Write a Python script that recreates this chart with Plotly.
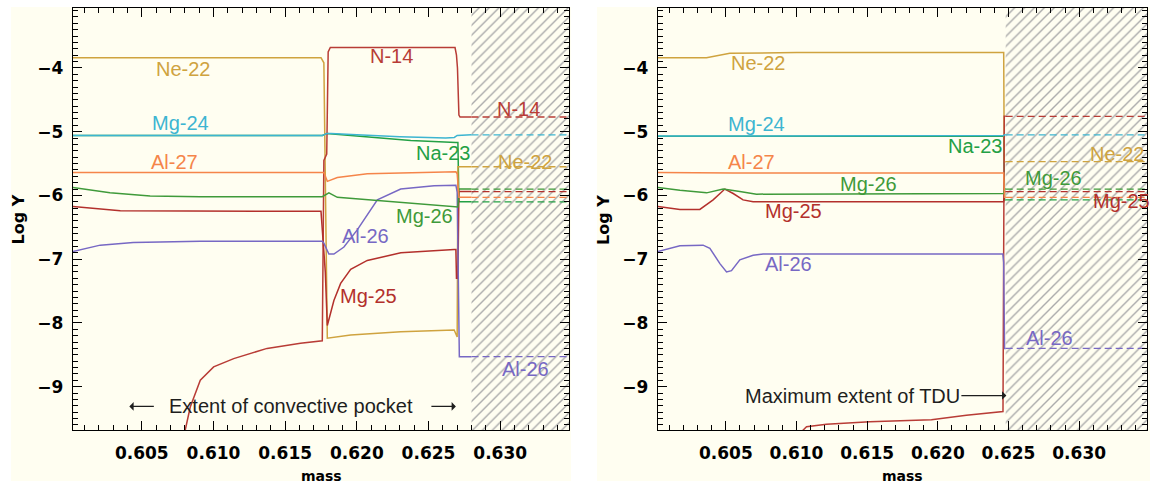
import plotly.graph_objects as go

# ---------------------------------------------------------------------------
# Abundance profiles (log Y) against mass coordinate.
# Left panel: convective pocket, right panel: after third dredge-up (TDU).
# ---------------------------------------------------------------------------

species = ["Na-23", "Ne-22", "N-14", "Mg-25", "Al-26", "Mg-26", "Al-27", "Mg-24"]

# --- left panel: convective pocket -----------------------------------------
pocket_hatch_start = 0.628
mass_end = 0.635

pocket_na23_m = [0.6000, 0.6176, 0.6179, 0.61840, 0.62073, 0.62376, 0.62691, 0.62705, 0.62712, 0.628]
pocket_na23_y = [-5.06, -5.06, -5.03, -5.04, -5.09, -5.14, -5.17, -5.17, -6.10, -6.10]

pocket_ne22_m = [0.6000, 0.6175, 0.6177, 0.61794, 0.61957, 0.62306, 0.62679, 0.62700, 0.62705, 0.628]
pocket_ne22_y = [-3.84, -3.84, -3.92, -8.24, -8.19, -8.14, -8.11, -8.22, -5.55, -5.55]

pocket_n14_m = [0.60795, 0.60803, 0.60838, 0.60908, 0.61001, 0.61141, 0.61374, 0.61607, 0.61759,
                0.61770, 0.61790, 0.61800, 0.61815, 0.62685, 0.62695, 0.62702, 0.62712, 0.6272, 0.628]
pocket_n14_y = [-9.80, -9.68, -9.32, -8.90, -8.69, -8.56, -8.40, -8.32, -8.28,
                -5.45, -5.35, -3.75, -3.68, -3.68, -3.80, -4.00, -4.74, -4.77, -4.77]

pocket_mg25_m = [0.6000, 0.6020, 0.6035, 0.6175, 0.6178, 0.61794, 0.61840, 0.61887, 0.61957,
                 0.62073, 0.62307, 0.62679, 0.62691, 0.62695, 0.62705, 0.62712, 0.628]
pocket_mg25_y = [-6.17, -6.21, -6.24, -6.25, -7.20, -8.04, -7.65, -7.38, -7.16,
                 -7.02, -6.90, -6.85, -6.85, -7.30, -7.30, -5.94, -5.94]

pocket_al26_m = [0.6000, 0.60210, 0.60440, 0.60908, 0.61759, 0.61770, 0.61805, 0.61840, 0.61910,
                 0.62003, 0.62143, 0.62306, 0.62539, 0.62691, 0.62700, 0.62715, 0.628]
pocket_al26_y = [-6.89, -6.78, -6.74, -6.72, -6.72, -6.75, -6.92, -6.92, -6.81,
                 -6.54, -6.07, -5.90, -5.85, -5.84, -5.95, -8.53, -8.53]

pocket_mg26_m = [0.6000, 0.60278, 0.60558, 0.60908, 0.61759, 0.61805, 0.61864, 0.62073,
                 0.62691, 0.62705, 0.62712, 0.628]
pocket_mg26_y = [-5.87, -5.96, -6.01, -6.02, -6.02, -5.96, -6.03, -6.07,
                 -6.18, -6.18, -5.90, -5.90]

pocket_al27_m = [0.6000, 0.61770, 0.61794, 0.61864, 0.62073, 0.62691, 0.62700, 0.62712, 0.628]
pocket_al27_y = [-5.64, -5.64, -5.78, -5.72, -5.66, -5.63, -5.66, -6.03, -6.03]

pocket_mg24_m = [0.6000, 0.6176, 0.6179, 0.6182, 0.6200, 0.6230, 0.6262, 0.6268, 0.6270, 0.628]
pocket_mg24_y = [-5.06, -5.06, -5.03, -5.03, -5.05, -5.08, -5.10, -5.09, -5.06, -5.05]

# level of each species beyond the pocket (same order as `species`)
pocket_envelope = [-6.10, -5.55, -4.77, -5.94, -8.53, -5.90, -6.03, -5.05]

# --- right panel: maximum extent of TDU ------------------------------------
tdu_hatch_start = 0.6248

tdu_na23_m = [0.6000, 0.62466, 0.62472, 0.6248]
tdu_na23_y = [-5.07, -5.07, -6.07, -6.07]

tdu_ne22_m = [0.6000, 0.60363, 0.60528, 0.6100, 0.62466, 0.62470, 0.6248]
tdu_ne22_y = [-3.84, -3.84, -3.77, -3.76, -3.76, -5.47, -5.47]

tdu_n14_m = [0.61015, 0.61071, 0.61212, 0.61518, 0.61955, 0.62202, 0.62461, 0.62470, 0.6248]
tdu_n14_y = [-9.75, -9.63, -9.59, -9.55, -9.52, -9.45, -9.39, -4.76, -4.76]

tdu_mg25_m = [0.6000, 0.60175, 0.60316, 0.60410, 0.60493, 0.60552, 0.60622, 0.60693,
              0.62466, 0.62472, 0.6248]
tdu_mg25_y = [-6.17, -6.22, -6.22, -6.07, -5.90, -5.97, -6.07, -6.10,
              -6.10, -5.94, -5.94]

tdu_al26_m = [0.6000, 0.60175, 0.60339, 0.60387, 0.60458, 0.60505, 0.60540, 0.60599, 0.60693,
              0.60764, 0.62460, 0.62466, 0.62472, 0.6248]
tdu_al26_y = [-6.89, -6.79, -6.78, -6.83, -7.07, -7.20, -7.18, -7.01, -6.94,
              -6.92, -6.92, -7.05, -8.40, -8.40]

tdu_mg26_m = [0.6000, 0.60175, 0.60364, 0.60481, 0.60599, 0.60717, 0.62466, 0.62472, 0.6248]
tdu_mg26_y = [-5.87, -5.92, -5.96, -5.90, -5.94, -5.98, -5.97, -5.90, -5.90]

tdu_al27_m = [0.6000, 0.6055, 0.62466, 0.62472, 0.6248]
tdu_al27_y = [-5.64, -5.65, -5.65, -6.03, -6.03]

tdu_mg24_m = [0.6000, 0.6054, 0.6056, 0.62466, 0.62472, 0.6248]
tdu_mg24_y = [-5.07, -5.07, -5.06, -5.06, -5.05, -5.05]

tdu_envelope = [-6.07, -5.47, -4.76, -5.94, -8.40, -5.90, -6.03, -5.05]

# --- curve labels ------------------------------------------------------------
pocket_label_text = ["Ne-22", "N-14", "N-14", "Mg-24", "Na-23", "Ne-22", "Al-27",
                     "Mg-26", "Al-26", "Mg-25", "Al-26"]
pocket_label_m = [0.6079, 0.6224, 0.6313, 0.6077, 0.6260, 0.6317, 0.6073,
                  0.6247, 0.6206, 0.6208, 0.6318]
pocket_label_y = [-4.02, -3.81, -4.65, -4.86, -5.34, -5.48, -5.48,
                  -6.32, -6.63, -7.58, -8.73]

tdu_label_text = ["Ne-22", "Mg-24", "Al-27", "Mg-26", "Mg-25", "Na-23", "Ne-22",
                  "Mg-26", "Mg-25", "Al-26", "Al-26"]
tdu_label_m = [0.6073, 0.6072, 0.6068, 0.6151, 0.6098, 0.6226, 0.6327,
               0.6282, 0.6330, 0.6094, 0.6279]
tdu_label_y = [-3.93, -4.88, -5.48, -5.82, -6.24, -5.22, -5.35,
               -5.72, -6.08, -7.08, -8.23]

# span of the convective pocket (arrow tips) and of the TDU
pocket_arrow_m = [0.60413, 0.62691]
pocket_arrow_y = -9.31
tdu_arrow_m = 0.62485
tdu_arrow_y = -9.14

x_range = [0.6002, 0.6348]
y_range = [-9.68, -3.06]

# ---------------------------------------------------------------------------
COLORS = {
    "Ne-22": "#CFA33F",
    "N-14": "#B83C36",
    "Mg-24": "#3DB5D1",
    "Na-23": "#23A045",
    "Al-27": "#F5854A",
    "Mg-26": "#3F9A3A",
    "Mg-25": "#B3302C",
    "Al-26": "#7768C4",
}
CREAM = "#FFFEF1"
HATCH = "#ABABAB"
INK = "#1E1E1E"
LABEL_FONT = "Liberation Sans, Arial, sans-serif"
AXIS_FONT = "DejaVu Sans, sans-serif"

pocket_series = {
    "Na-23": (pocket_na23_m, pocket_na23_y), "Ne-22": (pocket_ne22_m, pocket_ne22_y),
    "N-14": (pocket_n14_m, pocket_n14_y), "Mg-25": (pocket_mg25_m, pocket_mg25_y),
    "Al-26": (pocket_al26_m, pocket_al26_y), "Mg-26": (pocket_mg26_m, pocket_mg26_y),
    "Al-27": (pocket_al27_m, pocket_al27_y), "Mg-24": (pocket_mg24_m, pocket_mg24_y),
}
tdu_series = {
    "Na-23": (tdu_na23_m, tdu_na23_y), "Ne-22": (tdu_ne22_m, tdu_ne22_y),
    "N-14": (tdu_n14_m, tdu_n14_y), "Mg-25": (tdu_mg25_m, tdu_mg25_y),
    "Al-26": (tdu_al26_m, tdu_al26_y), "Mg-26": (tdu_mg26_m, tdu_mg26_y),
    "Al-27": (tdu_al27_m, tdu_al27_y), "Mg-24": (tdu_mg24_m, tdu_mg24_y),
}

fig = go.Figure()

panels = [
    ("x", "y", pocket_hatch_start, pocket_series, pocket_envelope),
    ("x2", "y2", tdu_hatch_start, tdu_series, tdu_envelope),
]

for xa, ya, hatch_start, series, envelope in panels:
    # hatched region outside the burning zone
    fig.add_trace(go.Scatter(
        x=[hatch_start, 0.640, 0.640, hatch_start, hatch_start],
        y=[-11, -11, -2, -2, -11],
        xaxis=xa, yaxis=ya, mode="lines", line=dict(width=0),
        fill="toself", fillcolor=CREAM,
        fillpattern=dict(shape="/", size=7, solidity=0.2, fgcolor=HATCH,
                         bgcolor=CREAM, fgopacity=1),
        hoverinfo="skip", showlegend=False,
    ))
    for name, level in zip(species, envelope):
        m, y = series[name]
        fig.add_trace(go.Scatter(
            x=m, y=y, xaxis=xa, yaxis=ya, mode="lines",
            line=dict(color=COLORS[name], width=1.5),
            name=name, showlegend=False,
        ))
        fig.add_trace(go.Scatter(
            x=[hatch_start, mass_end], y=[level, level], xaxis=xa, yaxis=ya,
            mode="lines", line=dict(color=COLORS[name], width=1.3, dash="7px,4px"),
            name=name, showlegend=False,
        ))

annotations = []
for texts, ms, ys, xr, yr in [
    (pocket_label_text, pocket_label_m, pocket_label_y, "x", "y"),
    (tdu_label_text, tdu_label_m, tdu_label_y, "x2", "y2"),
]:
    for t, m, v in zip(texts, ms, ys):
        annotations.append(dict(
            x=m, y=v, xref=xr, yref=yr, text=t, showarrow=False,
            font=dict(family=LABEL_FONT, size=20, color=COLORS[t]),
            xanchor="center", yanchor="middle",
        ))

# convective pocket: text flanked by two arrows
annotations.append(dict(
    x=0.61538, y=pocket_arrow_y, xref="x", yref="y",
    text="Extent of convective pocket", showarrow=False,
    xanchor="center", yanchor="middle",
    font=dict(family=LABEL_FONT, size=20, color=INK),
))
for tip, dx in [(pocket_arrow_m[0], 26), (pocket_arrow_m[1], -26)]:
    annotations.append(dict(
        x=tip, y=pocket_arrow_y, xref="x", yref="y", text="",
        showarrow=True, ax=dx, ay=0, axref="pixel", ayref="pixel",
        arrowhead=1, arrowsize=1.3, arrowwidth=1.1, arrowcolor=INK, standoff=0,
    ))
annotations.append(dict(
    x=tdu_arrow_m, y=tdu_arrow_y, xref="x2", yref="y2", text="Maximum extent of TDU",
    showarrow=True, ax=-154, ay=0, axref="pixel", ayref="pixel",
    arrowhead=1, arrowsize=1.3, arrowwidth=1.1, arrowcolor=INK, standoff=0,
    font=dict(family=LABEL_FONT, size=20, color=INK),
))

# axis titles
W, H = 1150, 484
for cx, cy_ in [(17.5, 220), (603, 220)]:
    annotations.append(dict(
        x=cx / W, y=1 - cy_ / H, xref="paper", yref="paper", text="Log Y",
        textangle=-90, showarrow=False, xanchor="center", yanchor="middle",
        font=dict(family=AXIS_FONT, size=16, color="black", weight="bold"),
    ))
for cx in [321, 902.5]:
    annotations.append(dict(
        x=cx / W, y=1 - 476 / H, xref="paper", yref="paper", text="mass",
        showarrow=False, xanchor="center", yanchor="middle",
        font=dict(family=AXIS_FONT, size=14, color="black", weight="bold"),
    ))

shapes = [
    dict(type="rect", xref="paper", yref="paper", x0=11 / W, x1=571 / W,
         y0=3 / H, y1=1 - 7 / H, fillcolor=CREAM, line=dict(width=0), layer="below"),
    dict(type="rect", xref="paper", yref="paper", x0=597 / W, x1=1.0,
         y0=3 / H, y1=1 - 7 / H, fillcolor=CREAM, line=dict(width=0), layer="below"),
]

tick_font = dict(family=AXIS_FONT, size=17, color="black", weight="bold")


def xaxis(domain, anchor):
    return dict(
        domain=domain, anchor=anchor, range=x_range, tick0=0.6, dtick=0.005,
        tickformat=".3f", ticks="inside", ticklen=9, tickwidth=1.2, tickcolor="black",
        mirror="allticks", showline=True, linewidth=1.3, linecolor="black",
        showgrid=False, zeroline=False, tickfont=tick_font, ticklabelstandoff=7,
        minor=dict(dtick=0.001, tick0=0.6, ticks="inside", ticklen=4.5,
                   tickwidth=1, tickcolor="black", showgrid=False),
    )


def yaxis(anchor):
    return dict(
        domain=[1 - 430 / H, 1 - 8 / H], anchor=anchor, range=y_range,
        tick0=0, dtick=1, ticks="inside", ticklen=9, tickwidth=1.2, tickcolor="black",
        mirror="allticks", showline=True, linewidth=1.3, linecolor="black",
        showgrid=False, zeroline=False, tickfont=tick_font, ticklabelstandoff=5,
        minor=dict(dtick=0.1, tick0=0, ticks="inside", ticklen=4.5,
                   tickwidth=1, tickcolor="black", showgrid=False),
    )


fig.update_layout(
    width=W, height=H, autosize=False,
    margin=dict(l=0, r=0, t=0, b=0, pad=0),
    paper_bgcolor="white", plot_bgcolor=CREAM,
    xaxis=xaxis([73 / W, 569 / W], "y"),
    yaxis=yaxis("x"),
    xaxis2=xaxis([658 / W, 1147 / W], "y2"),
    yaxis2=yaxis("x2"),
    annotations=annotations, shapes=shapes, showlegend=False,
)

fig.write_html("out.html")
